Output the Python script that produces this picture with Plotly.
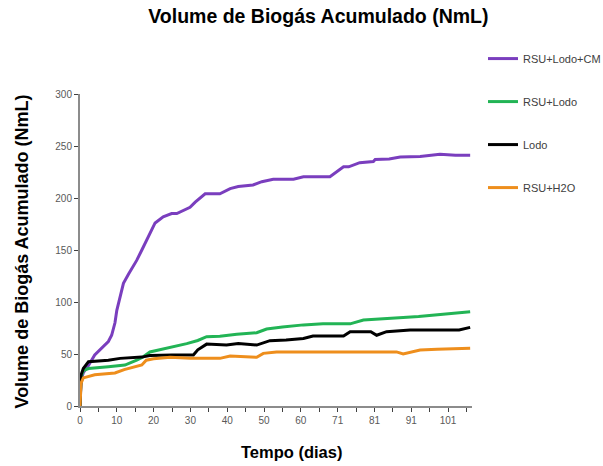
import plotly.graph_objects as go

# Data
days_cm = [0, 0.3, 0.9, 2.3, 4, 5.9, 7.7, 8.6, 9.5, 10, 10.9, 11.8, 13.2, 15.4, 16.8, 18.6, 20.4, 22.6, 24.9, 26.3,
           29.9, 31.3, 34, 38, 40.8, 43, 47, 49.4, 52.5, 58, 60.7, 67.9, 71.6, 73, 76, 79.7, 80.2, 84, 87, 92.4,
           97.8, 102, 106]
vol_cm = [0, 25, 32, 39, 49, 55.5, 62, 68, 80, 92, 105, 118, 127, 140, 150, 163, 176, 182, 185, 185,
          191, 196, 204, 204, 209, 211, 212.5, 215.7, 218, 218, 220.5, 220.5, 230, 230, 234, 235, 237, 237.5, 239.5, 240,
          242, 241, 241]

days_rl = [0, 0.3, 0.9, 2.3, 7.7, 12.2, 15.4, 17, 19, 21, 25.4, 29, 32, 34.4, 38, 42.6, 48, 50.7,
           55, 60.7, 66, 73.4, 77, 82, 87.8, 92, 97, 102, 106]
vol_rl = [0, 28, 34, 36, 37.8, 39.4, 44, 47, 52, 53.5, 57, 60, 63, 66.6, 67, 69, 70.5, 74,
          76, 78, 79, 79, 82.7, 83.5, 85, 86, 87.5, 89, 90.7]

days_lo = [0, 0.3, 0.9, 2.3, 7.7, 10.9, 16.8, 19, 25, 30.8, 32, 34.4, 39.8, 43, 48, 51.6, 56, 60.7, 63.3,
           71.6, 73.4, 79, 80.6, 83.3, 89.7, 95, 103, 106]
vol_lo = [0, 30, 36, 42.6, 44, 45.8, 47, 48.5, 49, 49, 54, 59.5, 58.6, 60, 58.6, 62.8, 63.5, 65, 67.3,
          67.3, 71.5, 71.5, 68, 71.5, 73, 73, 73, 75.6]

days_h2o = [0, 0.3, 0.9, 4, 9.5, 12, 16.8, 18, 20, 24.5, 30, 38, 40.8, 44, 48, 49.8, 53.4, 60,
            70, 80, 86, 87.8, 92.4, 97, 102, 106]
vol_h2o = [0, 22, 27, 30, 31.7, 35, 39.4, 44, 45.5, 46.8, 46, 45.8, 48, 47.5, 46.8, 50.6, 52, 52,
           52, 52, 52, 50, 53.8, 54.5, 55, 55.5]

series_names = ["RSU+Lodo+CM", "RSU+Lodo", "Lodo", "RSU+H2O"]
series_colors = ["#7A3EBE", "#22B455", "#000000", "#EE8E1C"]

tick_vals = [0, 10, 20, 30, 40, 50, 60, 70, 80, 90, 100]
tick_labels = ["0", "10", "20", "30", "40", "50", "60", "71", "81", "91", "101"]

title_text = "Volume de Biogás Acumulado (NmL)"
x_title = "Tempo (dias)"
y_title = "Volume de Biogás Acumulado (NmL)"

FONT = "Liberation Sans, Arial, sans-serif"

fig = go.Figure()
for i, (xs, ys) in enumerate([(days_cm, vol_cm), (days_rl, vol_rl), (days_lo, vol_lo), (days_h2o, vol_h2o)]):
    fig.add_trace(go.Scatter(
        x=xs, y=ys, mode="lines", name=series_names[i],
        line=dict(color=series_colors[i], width=3),
        legendgroup=series_names[i],
    ))

fig.update_layout(
    width=603, height=466,
    margin=dict(l=80, r=131, t=94, b=60, autoexpand=False),
    paper_bgcolor="white", plot_bgcolor="white",
    font=dict(family=FONT, color="#595959"),
    title=dict(text="<b>" + title_text + "</b>", x=0.528, xanchor="center",
               y=0.966, yanchor="middle",
               font=dict(size=19.5, color="#000000", family=FONT)),
    showlegend=True,
    legend=dict(x=1.028, xanchor="left", y=1.16, yanchor="top",
                font=dict(size=11, color="#404040"),
                tracegroupgap=24, traceorder="grouped",
                bgcolor="rgba(0,0,0,0)", itemwidth=30),
    xaxis=dict(
        range=[0, 106.5], tickmode="array", tickvals=tick_vals, ticktext=tick_labels,
        showgrid=False, zeroline=False, automargin=False,
        showline=True, linecolor="#8C8C8C", linewidth=2,
        ticks="outside", ticklen=4, tickcolor="#404040", tickwidth=1,
        tickfont=dict(size=10, color="#595959"),
        minor=dict(dtick=5, tick0=0, ticks="outside", ticklen=4, tickcolor="#404040", showgrid=False),
    ),
    yaxis=dict(
        range=[0, 300], tickmode="linear", tick0=0, dtick=50,
        showgrid=False, zeroline=False, automargin=False,
        showline=True, linecolor="#8C8C8C", linewidth=2,
        ticks="outside", ticklen=4, tickcolor="#404040", tickwidth=1,
        tickfont=dict(size=10, color="#595959"),
    ),
    annotations=[
        dict(text="<b>" + x_title + "</b>", xref="paper", yref="paper", x=0.54, y=-0.148,
             xanchor="center", yanchor="middle", showarrow=False,
             font=dict(size=16.5, color="#000000", family=FONT)),
        dict(text="<b>" + y_title + "</b>", xref="paper", yref="paper", x=-0.148, y=0.495,
             xanchor="center", yanchor="middle", showarrow=False, textangle=-90,
             font=dict(size=18, color="#000000", family=FONT)),
    ],
)

fig.write_html("out.html", config={"displayModeBar": False},
               post_script="document.body.style.margin='0';")
